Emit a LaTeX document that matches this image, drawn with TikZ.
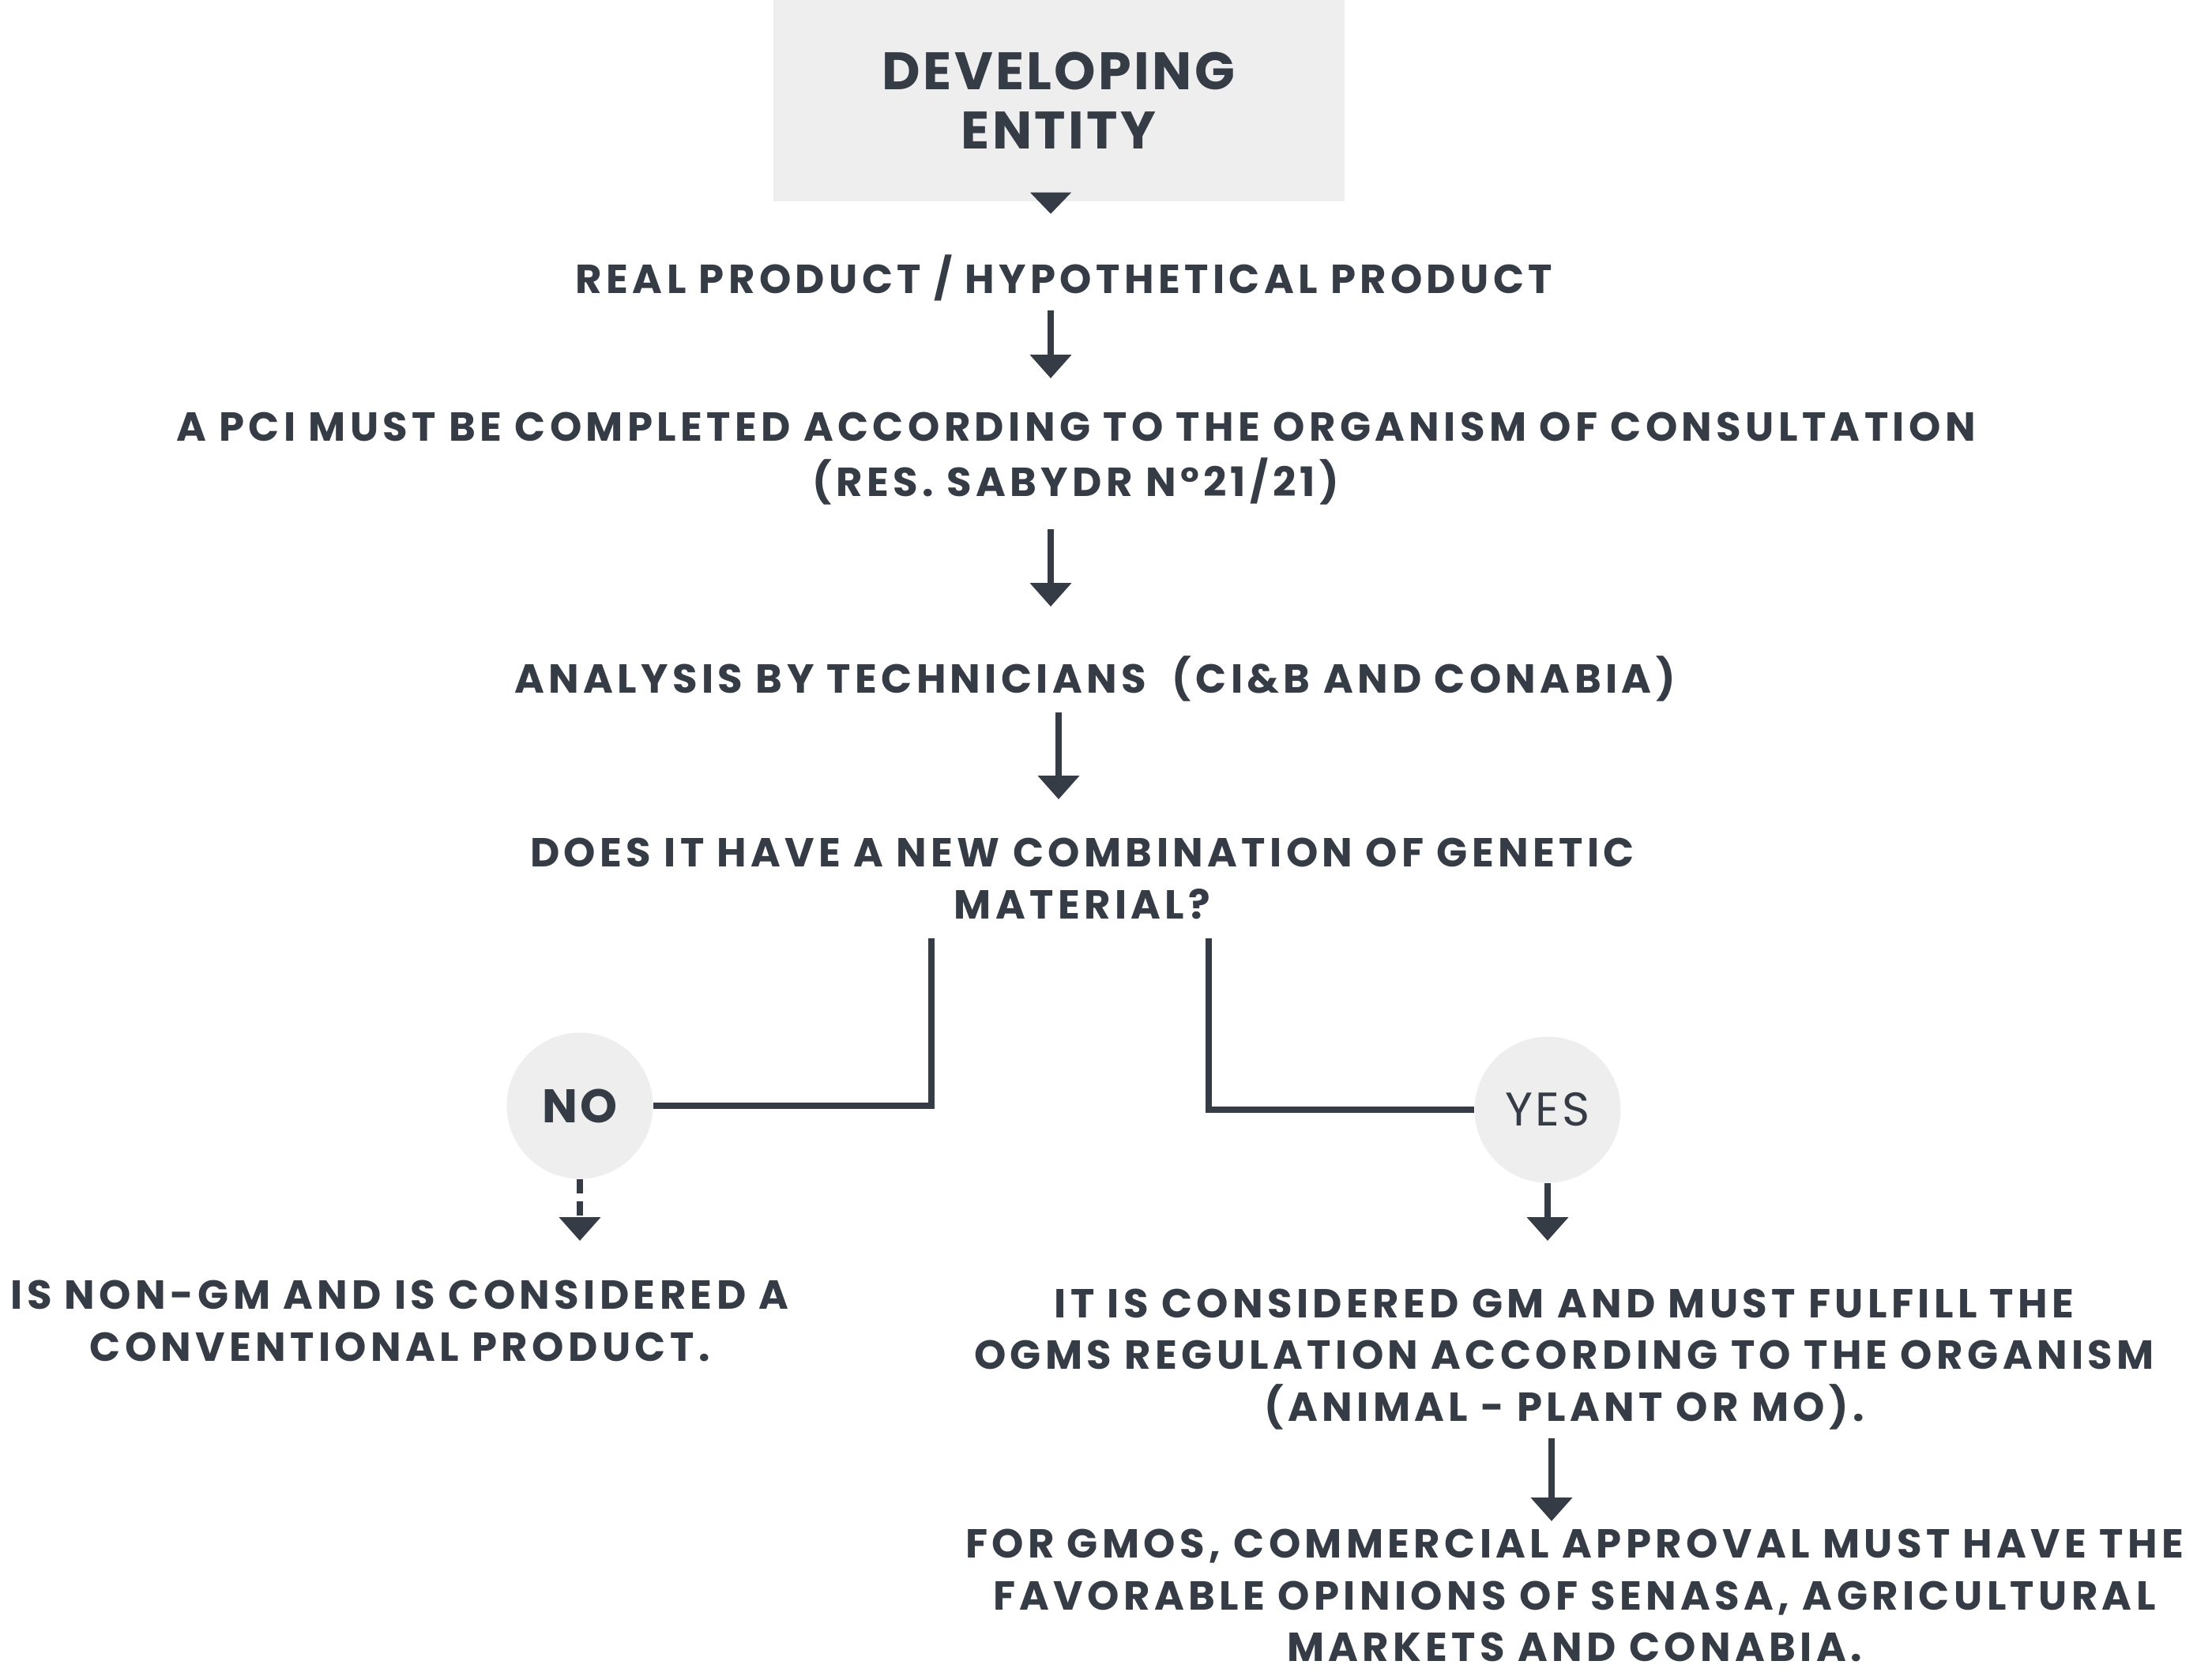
\documentclass[tikz,border=0pt]{standalone}
\usepackage{fontspec}
\setmainfont{Poppins}
\usetikzlibrary{arrows.meta,positioning}
\definecolor{ink}{HTML}{363C46}
\definecolor{paper}{HTML}{EEEEEE}

\begin{document}
\begin{tikzpicture}[
  txt/.style={text=ink, font=\bfseries\fontsize{14.6}{18.6}\selectfont\addfontfeature{LetterSpace=10.5}, align=center, inner sep=0pt},
  arr/.style={draw=ink, line width=2.5pt, -{Triangle[width=14.5pt,length=8.5pt]}},
  wire/.style={draw=ink, line width=2.4pt},
  bubble/.style={circle, fill=paper, minimum size=1.85cm, inner sep=0pt, text=ink}
]
\useasboundingbox (0,0) rectangle (28,-21.21);

% Top box
\node[txt, fill=paper, minimum width=7.23cm, minimum height=2.55cm,
  font=\bfseries\fontsize{19}{21.3}\selectfont\addfontfeature{LetterSpace=5}] (entity) at (13.40,-1.275) {DEVELOPING\\ENTITY};
\fill[ink] ([xshift=-0.36cm,yshift=0.12cm]entity.south) -- ([xshift=0.16cm,yshift=0.12cm]entity.south)
  -- ([xshift=-0.1cm,yshift=-0.15cm]entity.south) -- cycle;

% Steps
\node[txt] (real) at (13.47,-3.52) {REAL PRODUCT / HYPOTHETICAL PRODUCT};
\node[txt, font=\bfseries\fontsize{14.6}{19.9}\selectfont\addfontfeature{LetterSpace=10.5}] (pci) at (13.62,-5.81)
  {A PCI MUST BE COMPLETED ACCORDING TO THE ORGANISM OF CONSULTATION\\(RES. SABYDR N°21/21)};
\node[txt] (analysis) at (13.86,-8.59) {ANALYSIS BY TECHNICIANS \ (CI\&B AND CONABIA)};
\node[txt] (question) at (13.70,-11.125) {DOES IT HAVE A NEW COMBINATION OF GENETIC\\MATERIAL?};

% Answers
\node[bubble, font=\bfseries\fontsize{17}{17}\selectfont\addfontfeature{LetterSpace=4}] (no) at (7.34,-14.00) {NO};
\node[bubble, font=\fontsize{17}{17}\selectfont\addfontfeature{LetterSpace=6}] (yes) at (19.59,-14.05) {YES};

\node[txt] (nongm) at (5.06,-16.725) {IS NON-GM AND IS CONSIDERED A\\CONVENTIONAL PRODUCT.};
\node[txt] (gm) at (19.80,-17.21)
  {IT IS CONSIDERED GM AND MUST FULFILL THE\\OGMS REGULATION ACCORDING TO THE ORGANISM\\(ANIMAL - PLANT OR MO).};
\node[txt] (approval) at (19.93,-20.20)
  {FOR GMOS, COMMERCIAL APPROVAL MUST HAVE THE\\FAVORABLE OPINIONS OF SENASA, AGRICULTURAL\\MARKETS AND CONABIA.};

% Arrows
\draw[arr] ([xshift=-0.1cm,yshift=-0.41cm]real.center -| entity.south) -- ([xshift=-0.1cm,yshift=1.02cm]pci.center -| entity.south);
\draw[arr] ([xshift=-0.1cm,yshift=-0.89cm]pci.center -| entity.south) -- ([xshift=-0.1cm,yshift=0.91cm]analysis.center -| entity.south);
\draw[arr] ([yshift=-0.43cm]analysis.center -| entity.south) -- ([yshift=1.005cm]question.center -| entity.south);

\draw[wire] ([xshift=-1.91cm,yshift=-0.755cm]question.center) |- (no.east);
\draw[wire] ([xshift=1.60cm,yshift=-0.755cm]question.center) |- (yes.west);

\draw[arr, dash pattern=on 5pt off 3pt] (no.south) -- ([yshift=1.015cm]nongm.center -| no.south);
\draw[arr] (yes.south) -- ([yshift=1.50cm]gm.center -| yes.south);
\draw[arr] ([xshift=0.05cm,yshift=-1.00cm]gm.center -| yes.south) -- ([xshift=0.05cm,yshift=0.94cm]approval.center -| yes.south);
\end{tikzpicture}
\end{document}
